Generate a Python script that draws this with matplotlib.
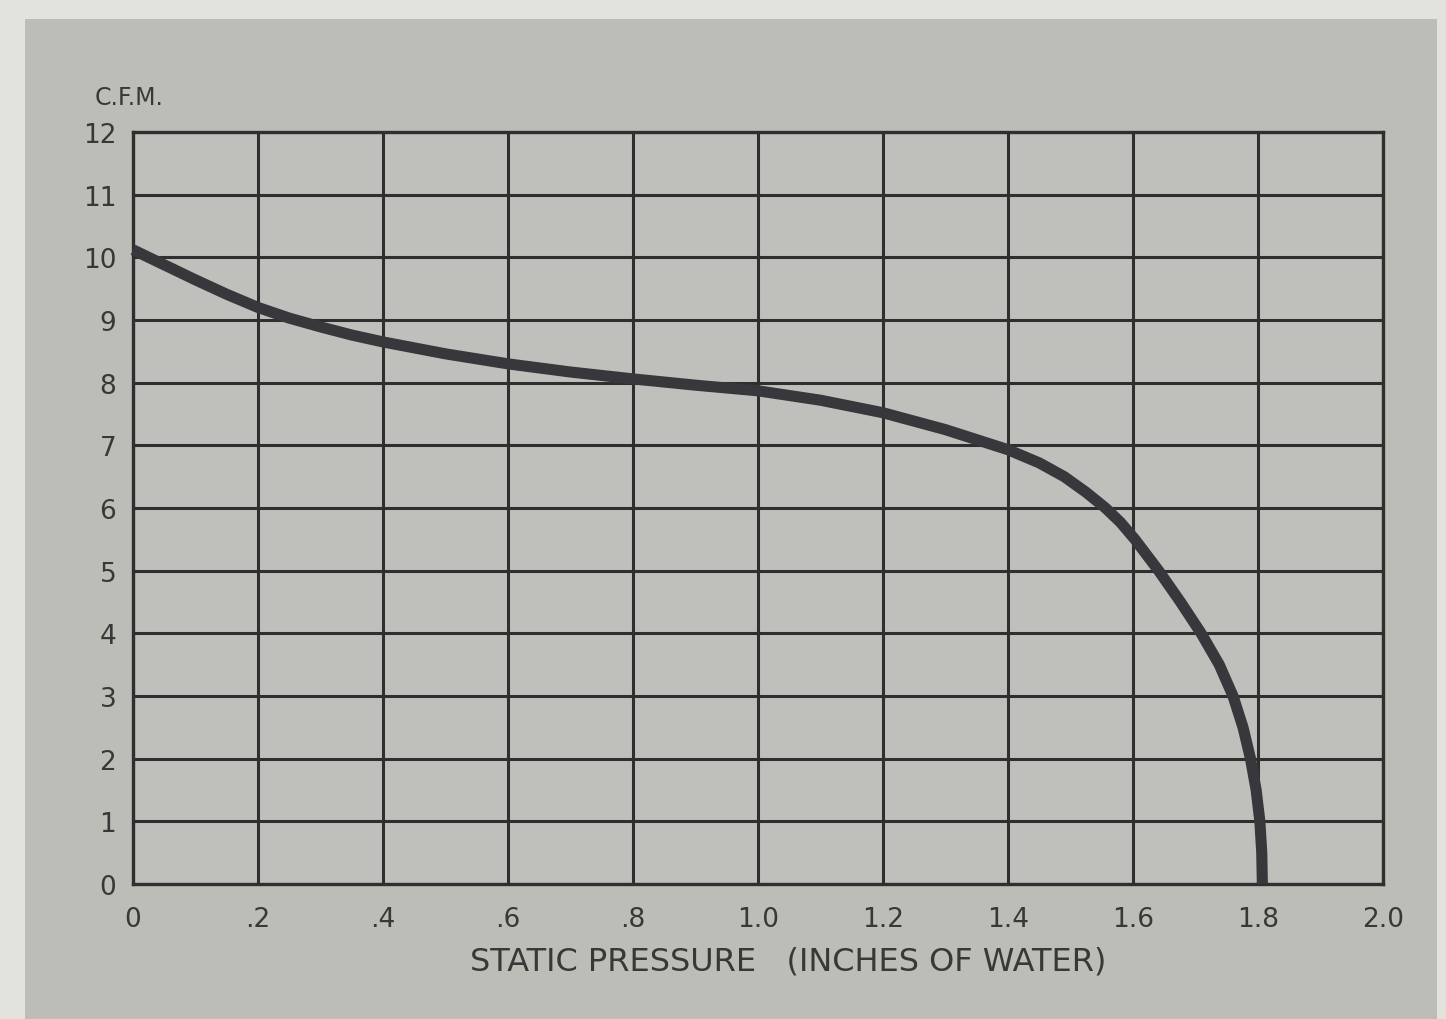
import matplotlib
matplotlib.use("Agg")
import matplotlib.pyplot as plt
from matplotlib.patches import Rectangle

# Data
pressure = [0.0, 0.05, 0.1, 0.15, 0.2, 0.25, 0.3, 0.35, 0.4, 0.5, 0.6, 0.7,
            0.8, 0.9, 1.0, 1.1, 1.2, 1.3, 1.4, 1.45, 1.49, 1.525, 1.556,
            1.58, 1.603, 1.641, 1.676, 1.709, 1.738, 1.760, 1.776, 1.788,
            1.797, 1.803, 1.806, 1.807]
cfm = [10.12, 9.88, 9.64, 9.41, 9.2, 9.03, 8.89, 8.76, 8.65, 8.46, 8.3, 8.17,
       8.06, 7.96, 7.87, 7.72, 7.52, 7.25, 6.93, 6.72, 6.5, 6.25, 6.0,
       5.77, 5.5, 5.0, 4.5, 4.0, 3.5, 3.0, 2.5, 2.0,
       1.5, 1.0, 0.5, 0.0]
x_ticks = [0.0, 0.2, 0.4, 0.6, 0.8, 1.0, 1.2, 1.4, 1.6, 1.8, 2.0]
x_tick_labels = ["0", ".2", ".4", ".6", ".8", "1.0", "1.2", "1.4", "1.6", "1.8", "2.0"]
y_ticks = list(range(0, 13))
y_tick_labels = [str(v) for v in y_ticks]

FONT = ["DejaVu Sans"]
TEXT_C = "#383838"
GRID_C = "#2f2f2f"

W, H = 1446, 1020
fig = plt.figure(figsize=(W / 100, H / 100), dpi=100)
fig.patch.set_facecolor("#e3e3dd")

# gray scanned panel behind the chart
bg = fig.add_axes([0, 0, 1, 1], zorder=-5)
bg.set_xlim(0, W)
bg.set_ylim(H, 0)
bg.axis("off")
bg.add_patch(Rectangle((25, 20), 1437 - 25, 1020 - 20, facecolor="#bdbdb8",
                       edgecolor="none"))

ax = fig.add_axes([133 / W, 1 - 885 / H, (1383 - 133) / W, (885 - 133) / H], zorder=1)
ax.set_facecolor("#bfbfbb")
ax.set_xlim(0, 2.0)
ax.set_ylim(0, 12)

ax.set_xticks(x_ticks)
ax.set_xticklabels(x_tick_labels)
ax.set_yticks(y_ticks)
ax.set_yticklabels(y_tick_labels)
ax.tick_params(length=0, labelsize=19, colors=TEXT_C)
ax.tick_params(axis="x", pad=16)
ax.tick_params(axis="y", pad=12)
for lab in ax.get_xticklabels() + ax.get_yticklabels():
    lab.set_family(FONT)

ax.grid(True, color=GRID_C, linewidth=2.2)
ax.set_axisbelow(True)
for s in ax.spines.values():
    s.set_color(GRID_C)
    s.set_linewidth(2.4)

ax.plot(pressure, cfm, color="#38383c", linewidth=8, solid_capstyle="butt",
        solid_joinstyle="round", zorder=3, clip_on=False)

fig.text(95 / W, 1 - 98 / H, "C.F.M.", family=FONT, fontsize=17, color=TEXT_C,
         ha="left", va="center", zorder=2)
fig.text(788 / W, 1 - 962 / H, "STATIC PRESSURE   (INCHES OF WATER)", family=FONT,
         fontsize=23, color=TEXT_C, ha="center", va="center", zorder=2)

fig.savefig("out.png", dpi=100, facecolor=fig.get_facecolor())
